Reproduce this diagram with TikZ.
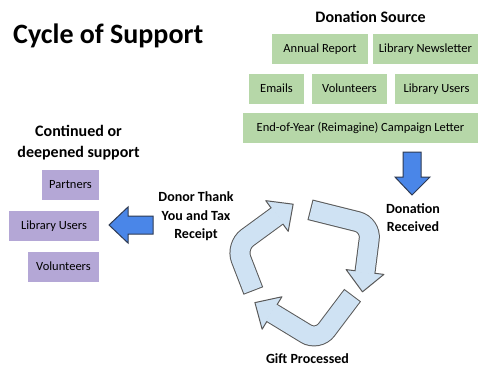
\documentclass[tikz,border=0pt]{standalone}
\usepackage{fontspec}
\setmainfont{Carlito}
\usetikzlibrary{positioning,calc}

\definecolor{srcgreen}{HTML}{B6D7A8}
\definecolor{suppurple}{HTML}{B4A7D6}
\definecolor{arrowblue}{HTML}{4A86E8}
\definecolor{arrowline}{HTML}{2E3A52}
\definecolor{cyclefill}{HTML}{CFE2F3}
\definecolor{cycleline}{HTML}{595959}

\begin{document}
\begin{tikzpicture}[x=1pt,y=-1pt,
    srcbox/.style={fill=srcgreen, inner sep=0pt, minimum height=30pt,
        text height=9pt, text depth=2.5pt, font=\fontsize{12.5}{15}\selectfont},
    supbox/.style={fill=suppurple, inner sep=0pt, minimum height=30pt,
        text height=9pt, text depth=2.5pt, font=\fontsize{12.5}{15}\selectfont},
    heading/.style={font=\fontsize{16}{21}\selectfont\bfseries, align=center},
    steplabel/.style={font=\fontsize{14}{18.5}\selectfont\bfseries, align=center},
    blockarrow/.style={fill=arrowblue, draw=arrowline, line width=1pt}]

    \fill[white] (0,0) rectangle (479,368);
    \useasboundingbox (0,0) rectangle (479,368);

    % bent arrow: tail, corner, end of shaft
    \def\cyclearrow#1#2#3{
        \draw[cycleline, line width=21pt, rounded corners=14pt]
            ($#1!-1pt!#2$) -- #2 -- #3;
        \filldraw[fill=cyclefill, draw=cycleline, line width=1pt, line join=round]
            ($#3!19pt!90:#2$) -- ($#3!-20pt!#2$) -- ($#3!19pt!-90:#2$) -- cycle;
        \draw[cyclefill, line width=19pt, rounded corners=14pt]
            #1 -- #2 -- ($#3!-1.2pt!#2$);
    }

    \node[anchor=base west, inner sep=0pt, font=\fontsize{28}{34}\selectfont\bfseries]
        (title) at (13,43.5) {Cycle of Support};

    % where donations come from
    \node[heading] (source) at (370.5,17) {Donation Source};
    \node[srcbox, minimum width=96pt] (report) at (320,49) {Annual Report};
    \node[srcbox, minimum width=105pt] (newsletter) at (425.5,49) {Library Newsletter};
    \node[srcbox, minimum width=55pt] (emails) at (276.5,89) {Emails};
    \node[srcbox, minimum width=75pt] (volunteers) at (349.5,89) {Volunteers};
    \node[srcbox, minimum width=83pt] (users) at (436.5,89) {Library Users};
    \node[srcbox, minimum width=235pt] (letter) at (360.5,128) {End-of-Year (Reimagine) Campaign Letter};

    % who keeps giving
    \node[heading] (continued) at (78.5,142.5) {Continued or\\deepened support};
    \node[supbox, minimum width=57pt] (partners) at (70.5,185) {Partners};
    \node[supbox, minimum width=90pt] (libusers) at (54,226) {Library Users};
    \node[supbox, minimum width=71pt] (vols) at (63.5,267) {Volunteers};

    % steps of the cycle
    \node[steplabel] (received) at (413,217.5) {Donation\\Received};
    \node[steplabel] (processed) at (307.5,359) {Gift Processed};
    \node[steplabel] (thanks) at (196,216.5) {Donor Thank\\You and Tax\\Receipt};

    \draw[blockarrow] (403,152) -- (421,152) -- (421,177) -- (430,177)
        -- (412,195) -- (395,177) -- (403,177) -- cycle;
    \draw[blockarrow] (153,216) -- (128,216) -- (128,207) -- (109,225)
        -- (128,243) -- (128,234) -- (153,234) -- cycle;

    \cyclearrow{(253,290)}{(236,246)}{(277,216)}
    \cyclearrow{(311,210)}{(371,225)}{(365,272)}
    \cyclearrow{(352,296)}{(318,341)}{(272,313)}
\end{tikzpicture}
\end{document}
